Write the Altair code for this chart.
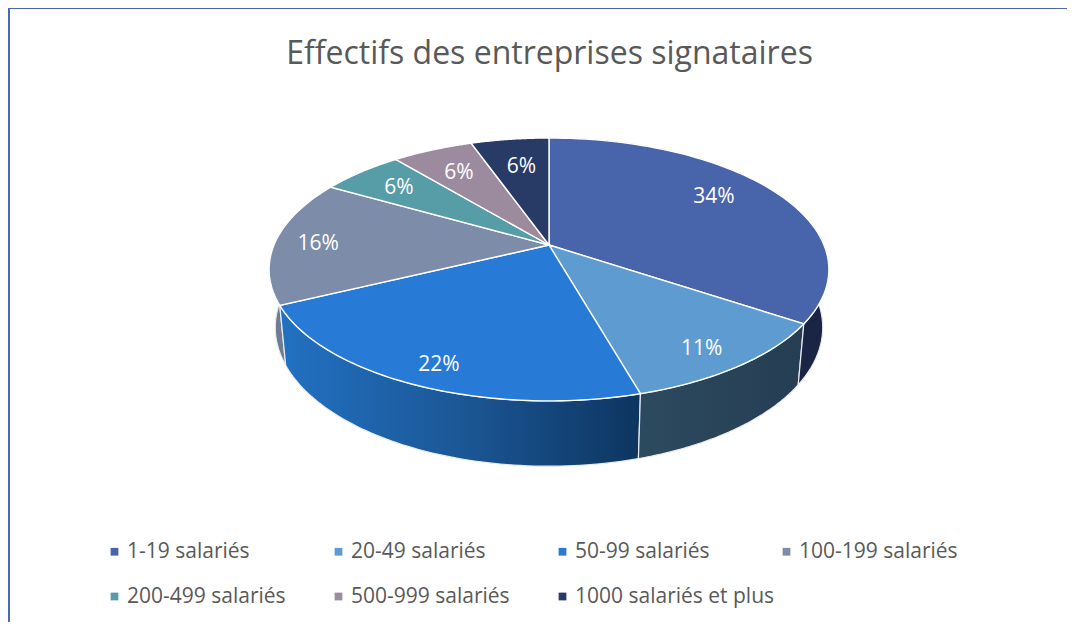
import numpy as np
import pandas as pd
import altair as alt

categories = ["1-19 salariés", "20-49 salariés", "50-99 salariés", "100-199 salariés",
              "200-499 salariés", "500-999 salariés", "1000 salariés et plus"]
values = [34.4, 11.2, 22.2, 15.5, 5.7, 5.6, 5.4]
labels = ["34%", "11%", "22%", "16%", "6%", "6%", "6%"]
colors = ["#4864AB", "#5E9BD1", "#277BD6", "#7D8CA8", "#579DA8", "#9C8B9E", "#283A66"]

# where each percentage sits inside its slice
label_radius = [0.774, 0.85, 0.862, 0.843, 0.788, 0.752, 0.723]
label_turn = [-5.2, 1.4, -0.8, -0.4, 0.5, 0.3, 0.7]

# projection of the tilted disc
APEX_X, APEX_Y = 549.0, 245.0
A, B, K = 275.0, 126.9, 0.186
DROP, SHRINK, STRETCH = 56.6, 0.978, 1.056
FONT = "Open Sans"


def project(theta_deg, r=1.0):
    t = np.radians(theta_deg)
    X, Y = r * np.sin(t), -r * np.cos(t)
    w = 1 - K * Y
    return A * X / w, B * Y / w


cum = np.concatenate([[0], np.cumsum(values)]) / sum(values) * 360
face_rows, wall_rows, label_rows = [], [], []
for s, cat in enumerate(categories):
    thetas = np.linspace(cum[s], cum[s + 1], 70)
    dx, dy = project(thetas)
    face = [(APEX_X, APEX_Y)] + list(zip(APEX_X + dx, APEX_Y + dy)) + [(APEX_X, APEX_Y)]
    for i, (x, y) in enumerate(face):
        face_rows.append(dict(cat=cat, i=i, x=x, y=y))
    top = list(zip(APEX_X + dx, APEX_Y + dy))
    low = list(zip(APEX_X + dx * SHRINK, APEX_Y + DROP + dy * STRETCH))
    wall = top + low[::-1] + top[:1]
    for i, (x, y) in enumerate(wall):
        wall_rows.append(dict(cat=cat, i=i, x=x, y=y))
    mx, my = project((cum[s] + cum[s + 1]) / 2 + label_turn[s], label_radius[s])
    label_rows.append(dict(label=labels[s], x=APEX_X + mx, y=APEX_Y + my))

faces = pd.DataFrame(face_rows)
walls = pd.DataFrame(wall_rows)
texts = pd.DataFrame(label_rows)

X = alt.X("x:Q", axis=None, scale=alt.Scale(domain=[8, 1067], nice=False, zero=False))
Y = alt.Y("y:Q", axis=None, scale=alt.Scale(domain=[622, 8], nice=False, zero=False))
ORDER = alt.Order("i:Q")


def grad(stops):
    return alt.Gradient(gradient="linear", x1=0, x2=1, y1=0, y2=0,
                        stops=[alt.GradientStop(offset=o, color=c) for o, c in stops])


wall_fill = {
    categories[3]: grad([(0, "#6F7D93"), (1, "#6F7D93")]),
    categories[2]: grad([(0, "#2271C2"), (0.5, "#1B5796"), (1, "#0D3560")]),
    categories[1]: grad([(0, "#2C4A5E"), (1, "#263D52")]),
    categories[0]: grad([(0, "#1A2444"), (1, "#1A2444")]),
}
wall_layers = [
    alt.Chart(walls[walls.cat == c]).mark_line(fill=f, stroke="#E8ECF2", strokeWidth=1.2)
    .encode(x=X, y=Y, order=ORDER)
    for c, f in wall_fill.items()
]

face_layer = alt.Chart(faces).mark_line(stroke="white", strokeWidth=1.4).encode(
    x=X, y=Y, order=ORDER,
    fill=alt.Fill(
        "cat:N",
        scale=alt.Scale(domain=categories, range=colors),
        legend=alt.Legend(
            title=None, orient="none", legendX=96, legendY=533, columns=4,
            direction="horizontal", gridAlign="all",
            symbolType="square", symbolSize=60, symbolStrokeWidth=0,
            labelFont=FONT, labelFontSize=21, labelColor="#595959", labelLimit=300,
            labelOffset=2, columnPadding=1, rowPadding=23,
        ),
    ),
)

text_layer = alt.Chart(texts).mark_text(
    font=FONT, fontSize=21, color="white", align="center", baseline="middle", dy=2
).encode(x=X, y=Y, text="label:N")

left_edge = alt.Chart(texts).mark_rule(color="#4A6AB0", strokeWidth=2).encode(
    x=alt.value(1), y=alt.value(0), y2=alt.value(614))
top_edge = alt.Chart(texts).mark_rule(color="#4A6AB0", strokeWidth=2).encode(
    y=alt.value(0), x=alt.value(0), x2=alt.value(1059))

chart = alt.layer(
    left_edge, top_edge, *wall_layers, face_layer, text_layer
).properties(
    width=1059, height=614, padding=0, background="white",
    autosize=alt.AutoSizeParams(type="none"),
    title=alt.TitleParams(
        "Effectifs des entreprises signataires", font=FONT, fontSize=32, fontWeight="normal",
        color="#595959", anchor="middle", offset=-89, dx=12, baseline="alphabetic",
    ),
).configure_view(stroke=None)

chart.save("out.html", embed_options={"renderer": "svg", "actions": False})
